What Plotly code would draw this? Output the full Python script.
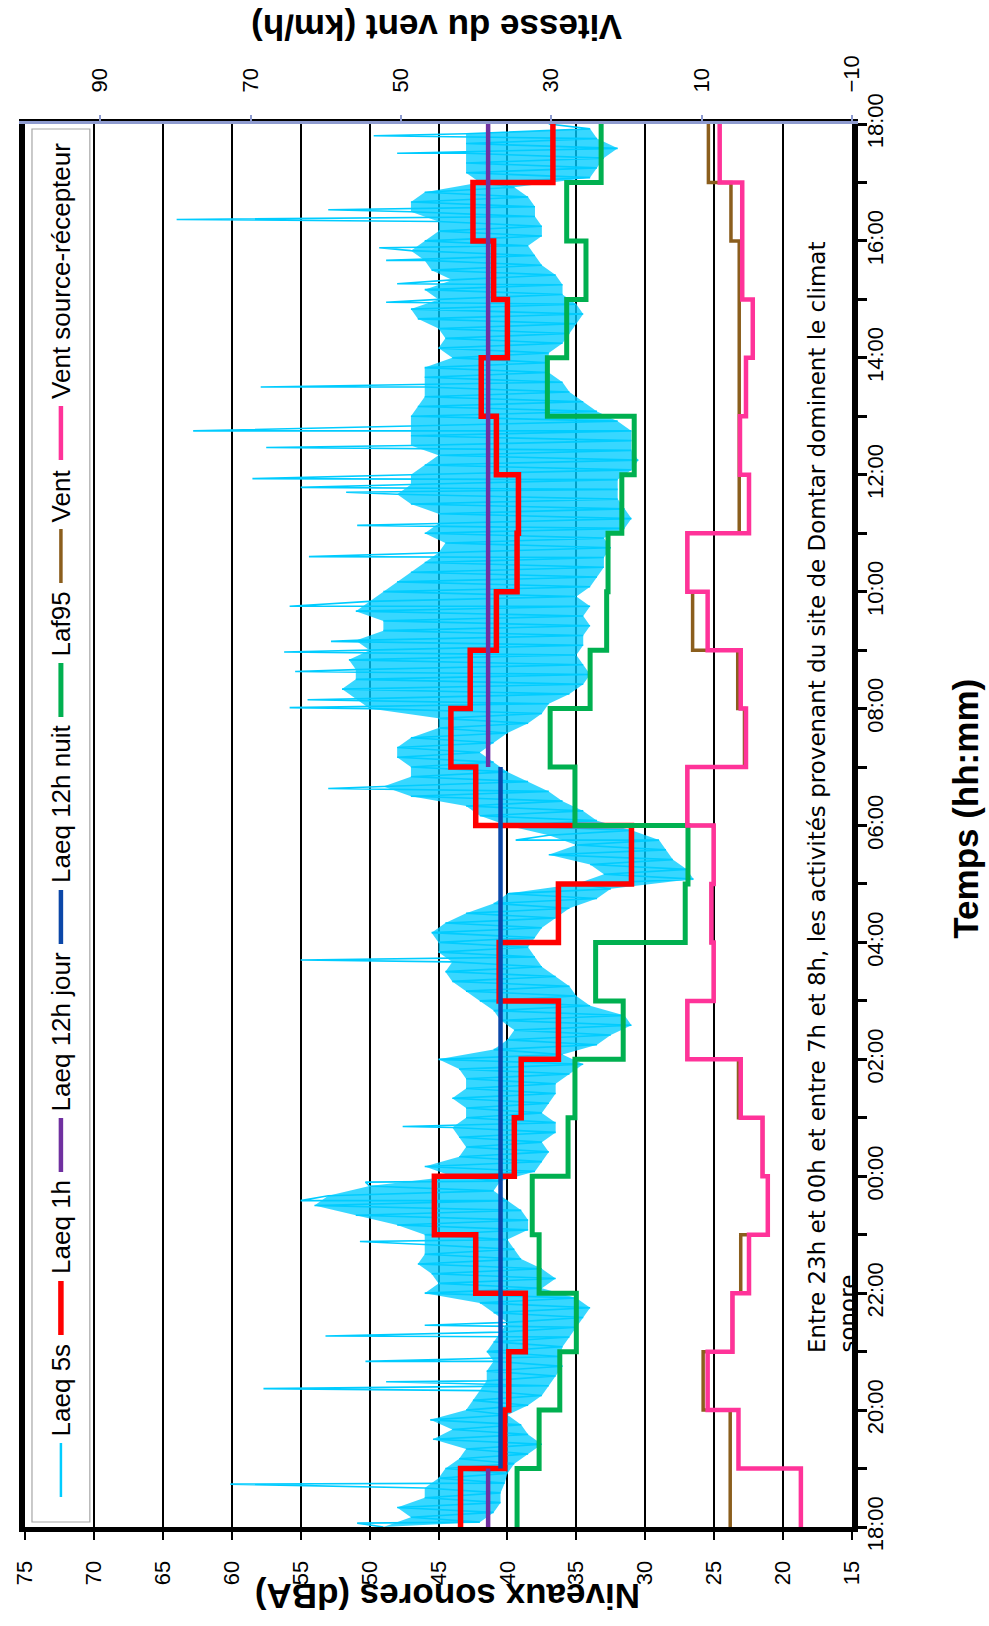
import plotly.graph_objects as go

# ---------------- DATA ----------------
# time axis: hours elapsed since 18:00 (0 .. 24)
tick_hours = [0, 2, 4, 6, 8, 10, 12, 14, 16, 18, 20, 22, 24]
tick_labels = ["18:00", "20:00", "22:00", "00:00", "02:00", "04:00", "06:00",
               "08:00", "10:00", "12:00", "14:00", "16:00", "18:00"]

# hourly series (hour i = 18:00+i .. 18:00+i+1)
hour_start = list(range(24))
laeq_1h = [43.4, 40.2, 39.9, 38.7, 42.3, 45.3, 39.5, 39.0, 36.3, 40.6, 36.3, 31.0,
           42.3, 44.1, 42.7, 40.8, 39.3, 39.2, 40.8, 41.9, 40.0, 41.0, 42.5, 36.7]
laf95 = [39.3, 37.7, 36.2, 35.0, 37.7, 38.2, 35.6, 35.1, 31.6, 33.6, 27.1, 26.9,
         35.1, 36.9, 34.0, 32.8, 32.7, 31.7, 30.8, 37.1, 35.7, 34.3, 35.7, 33.2]
vent = [6.2, 6.2, 9.8, 5.9, 4.8, 1.2, 1.9, 5.1, 11.9, 8.4, 8.7, 8.4,
        11.9, 4.3, 5.2, 11.2, 11.9, 5.0, 5.0, 5.0, 5.0, 5.0, 6.1, 9.1]
vent_sr = [-3.2, 5.1, 9.2, 5.9, 3.7, 1.2, 1.9, 4.8, 11.9, 8.4, 8.7, 8.4,
           11.9, 4.1, 4.8, 9.2, 11.9, 3.7, 4.9, 4.1, 3.2, 4.6, 4.6, 7.6]

# 12h averages
laeq12_jour = 41.4
jour_periods = [(0, 1), (13, 24)]
laeq12_nuit = 40.5
nuit_periods = [(1, 13)]

# Laeq 5s: 10-minute blocks (minutes since 18:00), upper and lower envelope
laeq5s_hi = [49, 47, 48, 46, 46, 45,  44.5, 43.5, 43, 45.4, 44, 45.6,
             43, 42.5, 42, 41.5, 41.5, 41,  41.5, 41, 40.5, 40, 41, 42,
             46, 45, 45.5, 46.5, 46, 46,  46, 48, 51, 54, 53, 50,
             44, 46, 43.5, 43, 43.5, 44,  43, 43, 44, 43, 43, 43.5,
             45, 41, 40, 39.5, 40.5, 41,  42, 43, 44, 44.5, 44, 45,
             45, 45.5, 44.5, 43, 41, 40,  35, 33, 34, 37, 35, 37,
             40, 42, 43, 47, 49, 47,  47, 48, 48, 47, 45, 45,
             50, 51, 52, 51, 51, 51.5,  50, 51, 49, 49, 51, 50,
             49, 48, 47, 46, 45, 44.5,  46, 45, 45, 47, 48, 47,
             47, 46, 45, 47, 47, 47,  47, 46.5, 46, 46, 46, 46,
             44, 45, 44.5, 45, 46.5, 47,  45, 46, 44, 45.5, 46, 47,
             46, 45, 45, 47, 47, 46,  42, 43, 43, 43, 43, 43]
laeq5s_lo = [42, 41, 40.5, 40.5, 40.2, 40,  39.5, 38.5, 37.5, 38.5, 39, 40,
             38.5, 37.5, 37, 36.5, 36, 36.2,  36, 35.5, 35, 34.5, 34, 35,
             37.5, 36.5, 37.5, 39, 39.5, 40,  38.5, 38.5, 39, 40, 41, 40.5,
             38, 37.5, 37, 37.5, 36.5, 36.5,  37.5, 37, 36.5, 36.5, 35.5, 34.5,
             36, 33.5, 32.5, 31, 31.5, 34,  35, 35.5, 36.5, 37.5, 38, 38.5,
             38, 37.5, 36.5, 35.5, 33.5, 32.5,  26.5, 27, 28, 28.5, 29, 31,
             33.5, 34.5, 36, 37, 38.5, 40,  41, 42, 41, 40, 38.5, 37.5,
             37, 35.5, 34.5, 34, 34.5, 35,  34.5, 34.5, 34, 34.5, 34, 35,
             34, 33.5, 33, 33, 32.5, 33,  31.5, 31, 31.5, 32, 32, 32,
             31, 30.5, 31, 31, 31, 32,  33.5, 34.5, 35.5, 36, 37, 37,
             37, 36, 35.5, 35, 34.5, 35,  36, 36, 36.5, 37.5, 38, 38.5,
             37.5, 37.5, 38, 38, 38.5, 39.5,  34, 33.5, 33, 32, 33.5, 34]
laeq5s_last = 37.0
# isolated peaks: (minutes since 18:00, dBA)
spike_min = [4, 44, 142, 149, 170, 196, 207, 293, 335, 354, 411, 582, 705, 758,
             841, 849, 878, 898, 909, 945, 996, 1028, 1062, 1067, 1076, 1108,
             1125, 1170, 1257, 1276, 1300, 1313, 1342, 1352, 1410, 1428]
spike_db = [50.9, 60.1, 57.7, 48.8, 50.3, 53.2, 46.0, 50.7, 55.0, 50.3, 47.6, 55.0, 39.4, 53.0,
            55.8, 54.5, 55.4, 56.2, 52.8, 55.8, 54.4, 50.9, 51.7, 55.0, 58.5, 57.5,
            62.8, 57.9, 48.8, 48.0, 48.8, 49.3, 64.0, 53.0, 48.0, 49.7]

# ---------------- BUILD ----------------
C_CYAN, C_RED, C_PURPLE, C_BLUE = "#00CCFF", "#FF0000", "#7030A0", "#0B47A8"
C_GREEN, C_BROWN, C_PINK = "#00B050", "#8B5E1D", "#FF3399"
W_CYAN, W_RED, W_PURPLE, W_BLUE, W_GREEN, W_BROWN, W_PINK = 1.6, 5.5, 4.5, 4.5, 5, 3.5, 4.5

blk_t = [10 * k for k in range(len(laeq5s_hi))]

# dense core of the 5 s series: band between the read envelopes
band_y = [t / 60.0 for t in blk_t] + [(t + 5) / 60.0 for t in reversed(blk_t)]
band_x = list(laeq5s_hi) + list(reversed(laeq5s_lo))

# the 5 s line itself: alternating envelope points plus the isolated peaks
pts = []
for t, h, l in zip(blk_t, laeq5s_hi, laeq5s_lo):
    pts.append((t, h))
    pts.append((t + 5, l))
for t, v in zip(spike_min, spike_db):
    pts.append((t + 0.01, v))
pts.append((1440, laeq5s_last))
pts.sort(key=lambda p: p[0])
y5 = [p[0] / 60.0 for p in pts]
x5 = [p[1] for p in pts]


def step(vals):
    return vals + [vals[-1]], hour_start + [24]


fig = go.Figure()
fig.add_trace(go.Scatter(x=band_x, y=band_y, mode="lines", fill="toself",
                         fillcolor="rgba(0,204,255,0.78)",
                         line=dict(color="rgba(0,204,255,0)", width=0), hoverinfo="skip",
                         name="Laeq 5s band"))
fig.add_trace(go.Scatter(x=x5, y=y5, mode="lines", name="Laeq 5s",
                         line=dict(color=C_CYAN, width=W_CYAN, simplify=False)))
xs, ys = step(laeq_1h)
fig.add_trace(go.Scatter(x=xs, y=ys, mode="lines", name="Laeq 1h",
                         line=dict(color=C_RED, width=W_RED, shape="vh")))
jx, jy = [], []
for a, b in jour_periods:
    jx += [laeq12_jour, laeq12_jour, None]
    jy += [a, b, None]
fig.add_trace(go.Scatter(x=jx, y=jy, mode="lines", name="Laeq 12h jour",
                         line=dict(color=C_PURPLE, width=W_PURPLE)))
nx, ny = [], []
for a, b in nuit_periods:
    nx += [laeq12_nuit, laeq12_nuit, None]
    ny += [a, b, None]
fig.add_trace(go.Scatter(x=nx, y=ny, mode="lines", name="Laeq 12h nuit",
                         line=dict(color=C_BLUE, width=W_BLUE)))
xs, ys = step(laf95)
fig.add_trace(go.Scatter(x=xs, y=ys, mode="lines", name="Laf95",
                         line=dict(color=C_GREEN, width=W_GREEN, shape="vh")))
xs, ys = step(vent)
fig.add_trace(go.Scatter(x=xs, y=ys, mode="lines", name="Vent", xaxis="x2",
                         line=dict(color=C_BROWN, width=W_BROWN, shape="vh")))
xs, ys = step(vent_sr)
fig.add_trace(go.Scatter(x=xs, y=ys, mode="lines", name="Vent source-récepteur", xaxis="x2",
                         line=dict(color=C_PINK, width=W_PINK, shape="vh")))

# ---------------- LAYOUT ----------------
W, H = 989, 1626
L, R, T, B = 23, 852, 124, 1527
PW, PH = R - L, B - T


def px(x):
    return (x - L) / PW


def py(y):
    return (B - y) / PH


TICKFONT = dict(family="Liberation Sans, Arial, sans-serif", size=22, color="black")

fig.update_layout(
    width=W, height=H,
    margin=dict(l=L, r=W - R, t=T, b=H - B, pad=0),
    paper_bgcolor="white", plot_bgcolor="white",
    showlegend=False,
    xaxis=dict(range=[75, 15], tickvals=list(range(15, 80, 5)), tickangle=-90,
               showgrid=True, gridcolor="black", gridwidth=2,
               showline=True, linecolor="black", linewidth=5, mirror=True,
               ticks="outside", ticklen=8, tickwidth=2, tickcolor="black",
               zeroline=False, tickfont=TICKFONT, ticklabelstandoff=12),
    xaxis2=dict(range=[100, -10], overlaying="x", side="top",
                tickvals=[-10, 10, 30, 50, 70, 90], tickangle=-90,
                showgrid=False, showline=True, linecolor="#8E9BCF", linewidth=3,
                ticks="outside", ticklen=6, tickwidth=1.5, tickcolor="#8E9BCF",
                zeroline=False, tickfont=TICKFONT, ticklabelstandoff=18),
    yaxis=dict(range=[0, 24], side="right", tickvals=tick_hours, ticktext=tick_labels,
               tickangle=-90, showgrid=False, zeroline=False,
               showline=True, linecolor="black", linewidth=6, mirror=True,
               ticks="outside", ticklen=9, tickwidth=3, tickcolor="black",
               minor=dict(dtick=1, ticks="outside", ticklen=9, tickwidth=3, tickcolor="black"),
               tickfont=TICKFONT, ticklabelstandoff=-10),
)

annotations = []
shapes = []
TITLEFONT = dict(family="Liberation Sans, Arial, sans-serif", size=35, color="black")
annotations.append(dict(text="<b>Niveaux sonores (dBA)</b>", textangle=180, showarrow=False,
                        xref="paper", yref="paper", x=px(446), y=py(1597),
                        xanchor="center", yanchor="middle", font=TITLEFONT))
annotations.append(dict(text="<b>Vitesse du vent (km/h)</b>", textangle=180, showarrow=False,
                        xref="paper", yref="paper", x=px(436), y=py(28),
                        xanchor="center", yanchor="middle", font=TITLEFONT))
annotations.append(dict(text="<b>Temps (hh:mm)</b>", textangle=-90, showarrow=False,
                        xref="paper", yref="paper", x=px(965), y=py(809),
                        xanchor="center", yanchor="middle", font=TITLEFONT))

NOTEFONT = dict(family="DejaVu Sans, Verdana, sans-serif", size=23, color="black")
annotations.append(dict(text="Entre 23h et 00h et entre 7h et 8h, les activités provenant du site de Domtar dominent le climat",
                        textangle=-90, showarrow=False, xref="paper", yref="paper",
                        x=px(817), y=py(1355), xanchor="center", yanchor="bottom", font=NOTEFONT))
annotations.append(dict(text="sonore.", textangle=-90, showarrow=False, xref="paper", yref="paper",
                        x=px(847), y=py(1355), xanchor="center", yanchor="bottom", font=NOTEFONT))

# legend (drawn rotated like the rest of the chart)
shapes.append(dict(type="rect", xref="paper", yref="paper", x0=px(30), x1=px(88),
                   y0=py(1522), y1=py(129), line=dict(color="#A6A6A6", width=1.2),
                   fillcolor="white", layer="below"))
LEGFONT = dict(family="Liberation Sans, Arial, sans-serif", size=26, color="black")
leg_items = [("Laeq 5s", C_CYAN, 2.5, 1497),
             ("Laeq 1h", C_RED, W_RED, 1335),
             ("Laeq 12h jour", C_PURPLE, W_PURPLE, 1172),
             ("Laeq 12h nuit", C_BLUE, W_BLUE, 944),
             ("Laf95", C_GREEN, W_GREEN, 717),
             ("Vent", C_BROWN, W_BROWN, 583),
             ("Vent source-récepteur", C_PINK, W_PINK, 460)]
LX = 59
for name, col, w, ystart in leg_items:
    shapes.append(dict(type="line", xref="paper", yref="paper", x0=px(LX), x1=px(LX),
                       y0=py(ystart), y1=py(ystart - 54), line=dict(color=col, width=w)))
    annotations.append(dict(text=name, textangle=-90, showarrow=False, xref="paper", yref="paper",
                            x=px(LX), y=py(ystart - 59), xanchor="center", yanchor="bottom",
                            font=LEGFONT))

fig.update_layout(annotations=annotations, shapes=shapes)
fig.write_html("out.html", config={"displayModeBar": False},
               post_script="document.body.style.margin='0px';")
